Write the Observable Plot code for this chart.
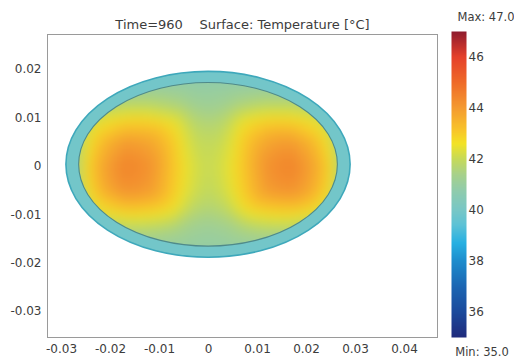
<!DOCTYPE html>
<html><head><meta charset="utf-8">
<script src="https://cdn.jsdelivr.net/npm/d3@7"></script>
<script src="https://cdn.jsdelivr.net/npm/@observablehq/plot@0.6"></script>
<style>
body{margin:0;background:#fff;font-family:"DejaVu Sans",sans-serif;}
#wrap{position:relative;width:514px;height:358px;overflow:hidden;}
#wrap svg{position:absolute;top:0;}
</style>
</head><body><div id="wrap"></div>
<script>
// ---- chart values ----
const titleText = "Time=960\u00a0\u00a0\u00a0\u00a0Surface: Temperature [°C]";
const xTicks = [-0.03, -0.02, -0.01, 0, 0.01, 0.02, 0.03, 0.04];
const yTicks = [-0.03, -0.02, -0.01, 0, 0.01, 0.02];
const xDomain = [-0.03286, 0.04673];
const yDomain = [-0.03537, 0.02723];

// sampled temperature field inside the inner domain (rows top to bottom)
const gridX = [-0.0265, -0.022, -0.017, -0.012, -0.007, -0.0035, 0, 0.0035, 0.007, 0.012, 0.017, 0.022, 0.0265];
const gridY = [0.017, 0.013, 0.009, 0.005, 0, -0.005, -0.009, -0.013, -0.017];
const gridT = [
  [40.6,40.7,40.8,40.9,40.9,40.9,40.9,40.9,40.9,40.9,40.8,40.7,40.6],
  [40.9,41.4,41.7,41.7,41.5,41.2,41.1,41.2,41.5,41.7,41.7,41.4,40.9],
  [41.6,42.6,43.0,43.0,42.6,41.8,41.6,41.8,42.6,43.0,43.0,42.6,41.6],
  [42.0,43.3,44.0,43.8,43.0,42.1,41.9,42.1,43.0,43.8,44.0,43.3,42.0],
  [42.3,43.7,44.5,44.2,43.1,42.3,42.0,42.3,43.1,44.2,44.5,43.7,42.3],
  [42.1,43.5,44.2,44.0,43.0,42.2,41.9,42.2,43.0,44.0,44.2,43.5,42.1],
  [41.6,42.7,43.1,43.0,42.6,41.8,41.6,41.8,42.6,43.0,43.1,42.7,41.6],
  [40.9,41.5,41.7,41.7,41.5,41.2,41.1,41.2,41.5,41.7,41.7,41.5,40.9],
  [40.6,40.7,40.8,40.9,40.9,40.9,40.9,40.9,40.9,40.9,40.8,40.7,40.6]
];
// outer layer temperature and domain semi-axes (data units)
const ringTemp = 39.9;
const outerAxes = [0.029, 0.0192];
const innerAxes = [0.0264, 0.0169];
const domainCenter = [0, 0.0003];

// colour map
const colorStops = [35, 36, 37, 38, 38.7, 39.4, 40, 40.7, 41.4, 42, 42.6, 43.1, 44, 45, 46, 47];
const colorHex = ["#1f2a7c","#1b4a9c","#1b66b3","#1d8ccd","#26b0e2","#5cc2d6","#78c7c6","#8ecbae","#a7d18a","#c6da58","#f3e325","#f8c62a","#f49a30","#ef6a28","#e5402a","#8e1b2e"];
const barTicks = [36, 38, 40, 42, 44, 46];
const tMin = 35, tMax = 47;

// ---- build ----
const samples = [];
gridY.forEach((y, i) => gridX.forEach((x, j) => samples.push({x, y, t: gridT[i][j]})));
const colorScale = {type: "linear", domain: colorStops, range: colorHex, clamp: true};
const fmt = d => String(d);
const textColor = "#3c3c3c";

const main = Plot.plot({
  width: 440, height: 358,
  marginLeft: 47, marginRight: 3, marginTop: 34, marginBottom: 21,
  x: {domain: xDomain, label: null},
  y: {domain: yDomain, label: null},
  color: colorScale,
  style: {fontFamily: "DejaVu Sans", fontSize: "12px", color: textColor, background: "transparent"},
  marks: [
    Plot.raster(samples, {x: "x", y: "y", fill: "t", interpolate: "barycentric", blur: 6,
      x1: -innerAxes[0] - 0.0005, x2: innerAxes[0] + 0.0005,
      y1: domainCenter[1] - innerAxes[1] - 0.0005, y2: domainCenter[1] + innerAxes[1] + 0.0005}),
    Plot.frame({stroke: "#9a9a9a"}),
    Plot.axisX({ticks: xTicks, tickSize: 0, tickPadding: 7, tickFormat: fmt, fontSize: 12, label: null}),
    Plot.axisY({ticks: yTicks, tickSize: 0, tickPadding: 6, tickFormat: fmt, fontSize: 12, label: null}),
    Plot.text([titleText], {frameAnchor: "top", dy: -10, lineAnchor: "middle", fontSize: 13, fill: textColor})
  ]
});

// domain outlines through the plot's scales
const sx = main.scale("x"), sy = main.scale("y"), sc = main.scale("color");
const cx = sx.apply(domainCenter[0]), cy = sy.apply(domainCenter[1]);
const ell = a => ({rx: sx.apply(domainCenter[0] + a[0]) - cx, ry: cy - sy.apply(domainCenter[1] + a[1])});
const o = ell(outerAxes), n = ell(innerAxes);
const ns = "http://www.w3.org/2000/svg";
const img = main.querySelector("image");
let rasterG = img;
while (rasterG.parentNode !== main) rasterG = rasterG.parentNode;
const defs = document.createElementNS(ns, "defs");
const clip = document.createElementNS(ns, "clipPath");
clip.setAttribute("id", "innerClip");
clip.setAttribute("clipPathUnits", "userSpaceOnUse");
const ce = document.createElementNS(ns, "ellipse");
Object.entries({cx, cy, rx: n.rx, ry: n.ry}).forEach(([k, v]) => ce.setAttribute(k, v));
clip.appendChild(ce); defs.appendChild(clip); main.insertBefore(defs, main.firstChild);
const clipG = document.createElementNS(ns, "g");
clipG.setAttribute("clip-path", "url(#innerClip)");
main.insertBefore(clipG, rasterG);
clipG.appendChild(rasterG);
const outer = document.createElementNS(ns, "ellipse");
Object.entries({cx, cy, rx: o.rx, ry: o.ry, fill: sc.apply(ringTemp), stroke: "#3ea8bb", "stroke-width": 1.6}).forEach(([k, v]) => outer.setAttribute(k, v));
main.insertBefore(outer, clipG);
const inner = document.createElementNS(ns, "ellipse");
Object.entries({cx, cy, rx: n.rx, ry: n.ry, fill: "none", stroke: "#4f8a8a", "stroke-width": 1.1}).forEach(([k, v]) => inner.setAttribute(k, v));
main.insertBefore(inner, clipG.nextSibling);

// colour bar
const bar = Plot.plot({
  width: 74, height: 358,
  marginLeft: 11, marginRight: 48, marginTop: 31, marginBottom: 21,
  x: {domain: [0, 1], axis: null},
  y: {domain: [tMin, tMax], label: null},
  color: colorScale,
  style: {fontFamily: "DejaVu Sans", fontSize: "12px", color: textColor, background: "transparent"},
  marks: [
    Plot.raster({x1: 0, x2: 1, y1: tMin, y2: tMax, fill: (x, y) => y}),
    Plot.axisY({anchor: "right", ticks: barTicks, tickSize: 0, tickPadding: 2, fontSize: 12, label: null}),
    Plot.text([`Max: ${tMax.toFixed(1)}`], {frameAnchor: "top", dx: 27, dy: -14, lineAnchor: "middle", fontSize: 11.5, fill: textColor}),
    Plot.text([`Min: ${tMin.toFixed(1)}`], {frameAnchor: "bottom", dx: 23, dy: 15, lineAnchor: "middle", fontSize: 11.5, fill: textColor})
  ]
});
bar.style.left = "440px";
main.style.left = "0px";
document.getElementById("wrap").append(main, bar);
</script>
</body></html>
